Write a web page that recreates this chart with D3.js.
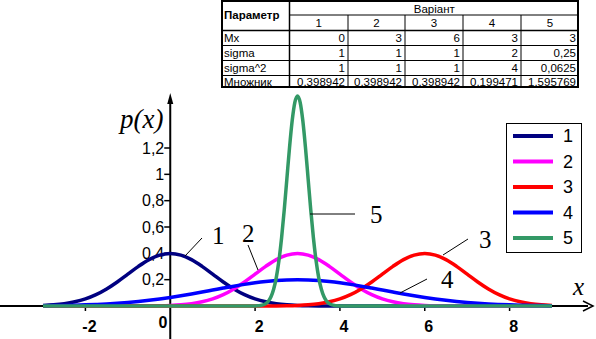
<!DOCTYPE html>
<html><head><meta charset="utf-8">
<script src="https://cdn.jsdelivr.net/npm/d3@7"></script>
<style>html,body{margin:0;padding:0;background:#fff;}svg{display:block;}</style>
</head><body>
<svg id="chart" width="596" height="339"></svg>
<script>
// ---- data ----
const seriesNames = ["1","2","3","4","5"];
const seriesColors = ["#000080","#ff00ff","#ff0000","#0000ff","#339966"];
// common x grid for series 1-4 (step 0.25 from -3 to 9)
const xGrid = d3.range(49).map(i => -3 + i*0.25);
const s1 = [.0044,.0091,.0175,.0317,.0540,.0863,.1295,.1826,.2420,.3011,.3521,.3867,.3989,.3867,.3521,.3011,.2420,.1826,.1295,.0863,.0540,.0317,.0175,.0091,.0044,.0020,.0009,.0004,.0001,0,0,0,0,0,0,0,0,0,0,0,0,0,0,0,0,0,0,0,0];
const s2 = [0,0,0,0,0,0,0,0,.0001,.0004,.0009,.0020,.0044,.0091,.0175,.0317,.0540,.0863,.1295,.1826,.2420,.3011,.3521,.3867,.3989,.3867,.3521,.3011,.2420,.1826,.1295,.0863,.0540,.0317,.0175,.0091,.0044,.0020,.0009,.0004,.0001,0,0,0,0,0,0,0,0];
const s3 = [0,0,0,0,0,0,0,0,0,0,0,0,0,0,0,0,0,0,0,0,.0001,.0004,.0009,.0020,.0044,.0091,.0175,.0317,.0540,.0863,.1295,.1826,.2420,.3011,.3521,.3867,.3989,.3867,.3521,.3011,.2420,.1826,.1295,.0863,.0540,.0317,.0175,.0091,.0044];
const s4 = [.0022,.0032,.0045,.0064,.0088,.0119,.0159,.0209,.0270,.0344,.0431,.0533,.0648,.0775,.0913,.1059,.1210,.1360,.1506,.1641,.1760,.1859,.1933,.1979,.1995,.1979,.1933,.1859,.1760,.1641,.1506,.1360,.1210,.1059,.0913,.0775,.0648,.0533,.0431,.0344,.0270,.0209,.0159,.0119,.0088,.0064,.0045,.0032,.0022];
// series 5 has its own fine grid
const x5 = [-3].concat(d3.range(33).map(i => 2 + i*0.0625)).concat([9]);
const s5 = [0,.0005,.0014,.0035,.0081,.0177,.0364,.0701,.1270,.2160,.3451,.5181,.7306,.9679,1.2046,1.4083,1.5467,1.5958,1.5467,1.4083,1.2046,.9679,.7306,.5181,.3451,.2160,.1270,.0701,.0364,.0177,.0081,.0035,.0014,.0005,0];
const xTicks = [-2,2,4,6,8];
const yTicks = [0.2,0.4,0.6,0.8,1.0,1.2];
// table
const tableHeader = "Параметр";
const tableGroup = "Варіант";
const variants = ["1","2","3","4","5"];
const rowLabels = ["Mx","sigma","sigma^2","Множник"];
const rowMx = ["0","3","6","3","3"];
const rowSigma = ["1","1","1","2","0,25"];
const rowSigma2 = ["1","1","1","4","0,0625"];
const rowMult = ["0,398942","0,398942","0,398942","0,199471","1,595769"];

// ---- drawing ----
const svg = d3.select("#chart");
const x = d3.scaleLinear().domain([-3,9]).range([43,552]);
const y = d3.scaleLinear().domain([0,1.2]).range([306,148]);
const fmt = v => d3.format(".1~f")(v).replace(".", ",");

// axes
const axisG = svg.append("g");
axisG.append("line").attr("x1",0).attr("x2",588).attr("y1",306).attr("y2",306).attr("stroke","#000").attr("stroke-width",2);
axisG.append("path").attr("d","M583,301 L593,306 L583,311").attr("fill","none").attr("stroke","#000").attr("stroke-width",1.5);
axisG.append("line").attr("x1",x(0)).attr("x2",x(0)).attr("y1",100).attr("y2",339).attr("stroke","#000").attr("stroke-width",2);
axisG.append("path").attr("d",`M${x(0)-3},104 L${x(0)},93 L${x(0)+3},104 Z`).attr("fill","#000");

// y ticks
yTicks.forEach(t => {
  axisG.append("line").attr("x1",x(0)-6).attr("x2",x(0)).attr("y1",y(t)).attr("y2",y(t)).attr("stroke","#000").attr("stroke-width",1.5);
  axisG.append("text").attr("x",x(0)-6).attr("y",y(t)).attr("dy","0.36em").attr("text-anchor","end")
    .attr("font-family","Liberation Sans, Arial, sans-serif").attr("font-size",16).text(fmt(t));
});
// x ticks
xTicks.forEach(t => {
  axisG.append("line").attr("x1",x(t)).attr("x2",x(t)).attr("y1",306).attr("y2",311).attr("stroke","#000").attr("stroke-width",1.5);
  axisG.append("text").attr("x",x(t)+4).attr("y",332).attr("text-anchor","middle").attr("font-weight","bold")
    .attr("font-family","Liberation Sans, Arial, sans-serif").attr("font-size",16).text(t < 0 ? "-" + Math.abs(t) : t);
});
axisG.append("text").attr("x",163).attr("y",328).attr("text-anchor","middle").attr("font-weight","bold")
  .attr("font-family","Liberation Sans, Arial, sans-serif").attr("font-size",16).text("0");

// curves
const line = d3.line().x(d => x(d[0])).y(d => y(d[1])).curve(d3.curveMonotoneX);
const seriesData = [
  xGrid.map((v,i)=>[v,s1[i]]),
  xGrid.map((v,i)=>[v,s2[i]]),
  xGrid.map((v,i)=>[v,s3[i]]),
  xGrid.map((v,i)=>[v,s4[i]]),
  x5.map((v,i)=>[v,s5[i]])
];
svg.append("g").selectAll("path").data(seriesData).join("path")
  .attr("d", line).attr("fill","none").attr("stroke",(d,i)=>seriesColors[i])
  .attr("stroke-width",3.5).attr("stroke-linejoin","round");

// axis labels
svg.append("text").attr("x",120).attr("y",128).attr("font-family","Liberation Serif, Times New Roman, serif")
  .attr("font-style","italic").attr("font-size",27).text("p(x)");
svg.append("text").attr("x",573).attr("y",295).attr("font-family","Liberation Serif, Times New Roman, serif")
  .attr("font-style","italic").attr("font-size",25).text("x");

// curve callouts
const callouts = [
  {t:"1", lx:212, ly:244, l:[185,256,202,238]},
  {t:"2", lx:242, ly:242, l:[248,245,258,270]},
  {t:"5", lx:370, ly:223, l:[310,214,355,214]},
  {t:"3", lx:479, ly:248, l:[443,255,468,239]},
  {t:"4", lx:441, ly:288, l:[400,293,427,279]}
];
callouts.forEach(c => {
  svg.append("line").attr("x1",c.l[0]).attr("y1",c.l[1]).attr("x2",c.l[2]).attr("y2",c.l[3]).attr("stroke","#000").attr("stroke-width",1);
  svg.append("text").attr("x",c.lx).attr("y",c.ly).attr("font-family","Liberation Serif, Times New Roman, serif")
    .attr("font-size",25).text(c.t);
});

// legend
const lg = svg.append("g");
lg.append("rect").attr("x",506.5).attr("y",123.5).attr("width",75).attr("height",129).attr("fill","#fff").attr("stroke","#000").attr("stroke-width",1);
seriesNames.forEach((n,i) => {
  const yy = 136 + i*25.5;
  lg.append("line").attr("x1",513).attr("x2",553).attr("y1",yy).attr("y2",yy).attr("stroke",seriesColors[i]).attr("stroke-width",4);
  lg.append("text").attr("x",563).attr("y",yy).attr("dy","0.36em").attr("font-family","Liberation Sans, Arial, sans-serif")
    .attr("font-size",18).text(n);
});

// table
const tg = svg.append("g").attr("font-family","Liberation Sans, Arial, sans-serif").attr("font-size",11.5);
const colX = [221,289.5,348,405,463,521,579];
const rowY = [0,15,30.5,45.5,60.5,75.5,88];
tg.append("rect").attr("x",colX[0]).attr("y",rowY[0]).attr("width",colX[6]-colX[0]).attr("height",rowY[6]-rowY[0]).attr("fill","#fff");
// grid lines
tg.append("line").attr("x1",colX[1]).attr("x2",colX[6]).attr("y1",rowY[1]).attr("y2",rowY[1]).attr("stroke","#000");
for (let r=2;r<6;r++) tg.append("line").attr("x1",colX[0]).attr("x2",colX[6]).attr("y1",rowY[r]).attr("y2",rowY[r]).attr("stroke","#000").attr("stroke-width", r===2?1.5:1);
tg.append("line").attr("x1",colX[1]).attr("x2",colX[1]).attr("y1",rowY[0]).attr("y2",rowY[6]).attr("stroke","#000").attr("stroke-width",1.5);
for (let c=2;c<6;c++) tg.append("line").attr("x1",colX[c]).attr("x2",colX[c]).attr("y1",rowY[1]).attr("y2",rowY[6]).attr("stroke","#000");
tg.append("rect").attr("x",colX[0]+1).attr("y",rowY[0]+1).attr("width",colX[6]-colX[0]-2).attr("height",rowY[6]-rowY[0]-2).attr("fill","none").attr("stroke","#000").attr("stroke-width",2);
// text
tg.append("text").attr("x",colX[0]+3).attr("y",(rowY[0]+rowY[2])/2).attr("dy","0.36em").attr("font-weight","bold").text(tableHeader);
tg.append("text").attr("x",(colX[1]+colX[6])/2).attr("y",(rowY[0]+rowY[1])/2+1).attr("dy","0.36em").attr("text-anchor","middle").text(tableGroup);
variants.forEach((v,i)=>tg.append("text").attr("x",(colX[i+1]+colX[i+2])/2).attr("y",(rowY[1]+rowY[2])/2).attr("dy","0.36em").attr("text-anchor","middle").text(v));
const rows = [rowMx,rowSigma,rowSigma2,rowMult];
rows.forEach((row,r) => {
  const cy = (rowY[r+2]+rowY[r+3])/2;
  tg.append("text").attr("x",colX[0]+3).attr("y",cy).attr("dy","0.36em").text(rowLabels[r]);
  row.forEach((v,i)=>tg.append("text").attr("x",colX[i+2]-3).attr("y",cy).attr("dy","0.36em").attr("text-anchor","end").text(v));
});
</script>
</body></html>
